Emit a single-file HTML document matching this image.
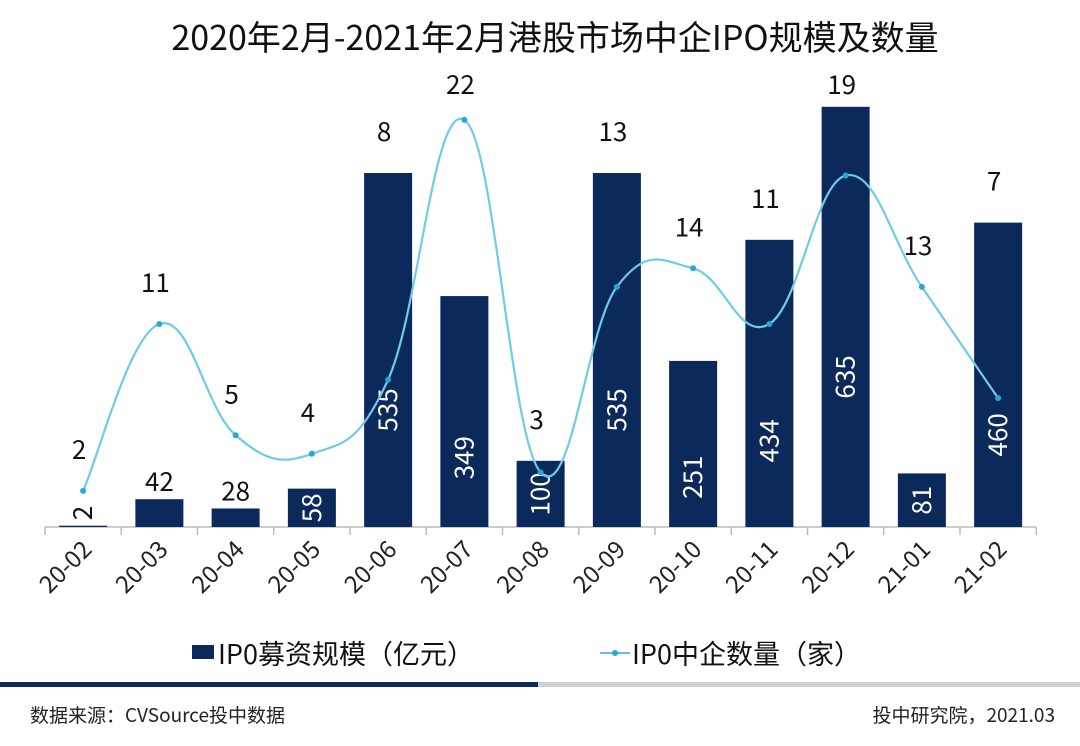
<!DOCTYPE html>
<html><head><meta charset="utf-8"><style>
body{margin:0;width:1080px;height:741px;background:#fff;overflow:hidden;font-family:"Noto Sans CJK SC","Liberation Sans",sans-serif;}
svg text{font-family:"Noto Sans CJK SC","Liberation Sans",sans-serif;}
</style></head><body>
<svg id="c" width="1080" height="741">
<text x="555" y="50" font-size="34" text-anchor="middle" fill="#111">2020年2月-2021年2月港股市场中企IPO规模及数量</text>
<rect x="0" y="682" width="538" height="5" fill="#0b2a5b"/>
<rect x="538" y="682" width="542" height="5" fill="#cfcfcf"/>
<text x="30" y="722" font-size="19" fill="#222">数据来源：CVSource投中数据</text>
<text x="1055" y="722" font-size="19" fill="#222" text-anchor="end">投中研究院，2021.03</text>
<rect x="192" y="645" width="22" height="14" fill="#0b2a5b"/>
<text x="218" y="664" font-size="27" fill="#111">IP0募资规模（亿元）</text>
<line x1="600" y1="653" x2="630" y2="653" stroke="#5bc3e3" stroke-width="2"/>
<circle cx="615" cy="653" r="3" fill="#2aa6d6"/>
<text x="632" y="664" font-size="27" fill="#111">IP0中企数量（家）</text>
</svg>
<script>
const categories=["20-02","20-03","20-04","20-05","20-06","20-07","20-08","20-09","20-10","20-11","20-12","21-01","21-02"];
const amounts=[2,42,28,58,535,349,100,535,251,434,635,81,460];
const counts=[2,11,5,4,8,22,3,13,14,11,19,13,7];
const NS="http://www.w3.org/2000/svg";
const svg=document.getElementById('c');
const x0=45,cw=76.25,base=527;
const xC=i=>x0+cw*(i+0.5);
const yA=v=>base-v*0.6617;
const yN=v=>528-v*18.55;
function mk(t,a){const e=document.createElementNS(NS,t);for(const k in a)e.setAttribute(k,a[k]);svg.appendChild(e);return e;}
let ax=mk('line',{x1:x0,y1:base,x2:x0+cw*categories.length,y2:base,stroke:'#bbb','stroke-width':1.5});


for(let i=0;i<=categories.length;i++){
 let t=mk('line',{x1:x0+cw*i,y1:base,x2:x0+cw*i,y2:base+8,stroke:'#bbb','stroke-width':1.5});
 
 
}
categories.forEach((c,i)=>{
 const x=xC(i)+10,y=base+24;
 let t=mk('text',{x:x,y:y,'font-size':24,fill:'#222','text-anchor':'end',transform:`rotate(-45 ${x} ${y})`});
 t.textContent=c;
 
 
});
amounts.forEach((v,i)=>{
 const top=yA(v);
 let r=mk('rect',{x:xC(i)-24,y:top,width:48,height:base-top,fill:'#0b2a5b'});
 
 
 let t;
 if(base-top<15){
  const cx=xC(i)+9,cy=base-14;
  t=mk('text',{x:cx,y:cy,'font-size':26,fill:'#111','text-anchor':'middle',transform:`rotate(-90 ${cx} ${cy})`});
 } else if(base-top<32){
  t=mk('text',{x:xC(i),y:top-8,'font-size':26,fill:'#111','text-anchor':'middle'});
 } else {
  const cyy=base-top<80?(top+base)/2:(top+base)/2+Math.min(60,(base-top)*0.2);
  const cx=xC(i)+9;
  t=mk('text',{x:cx,y:cyy,'font-size':26,fill:'#fff','text-anchor':'middle',transform:`rotate(-90 ${cx} ${cyy})`});
 }
 t.textContent=v;
 
 
});
const pts=counts.map((v,i)=>[xC(i),yN(v)]);
let d=`M${pts[0][0]},${pts[0][1]}`;
for(let i=0;i<pts.length-1;i++){
 const p0=pts[Math.max(0,i-1)],p1=pts[i],p2=pts[i+1],p3=pts[Math.min(pts.length-1,i+2)];
 const k=0.2;
 d+=` C${p1[0]+(p2[0]-p0[0])*k},${p1[1]+(p2[1]-p0[1])*k} ${p2[0]-(p3[0]-p1[0])*k},${p2[1]-(p3[1]-p1[1])*k} ${p2[0]},${p2[1]}`;
}
let ln=mk('path',{d:d,fill:'none',stroke:'#6fcbe8','stroke-width':2.2});


pts.forEach((p,i)=>{
 let c=mk('circle',{cx:p[0],cy:p[1],r:3,fill:'#2aa6d6'});
 
 
 const top=Math.min(p[1],amounts[i]>40?yA(amounts[i]):p[1]);
 let ly=Math.max(top-32,94);
 let t=mk('text',{x:p[0]-4,y:ly,'font-size':26,fill:'#111','text-anchor':'middle'});
 t.textContent=counts[i];
 
 
});
</script>
</body></html>
